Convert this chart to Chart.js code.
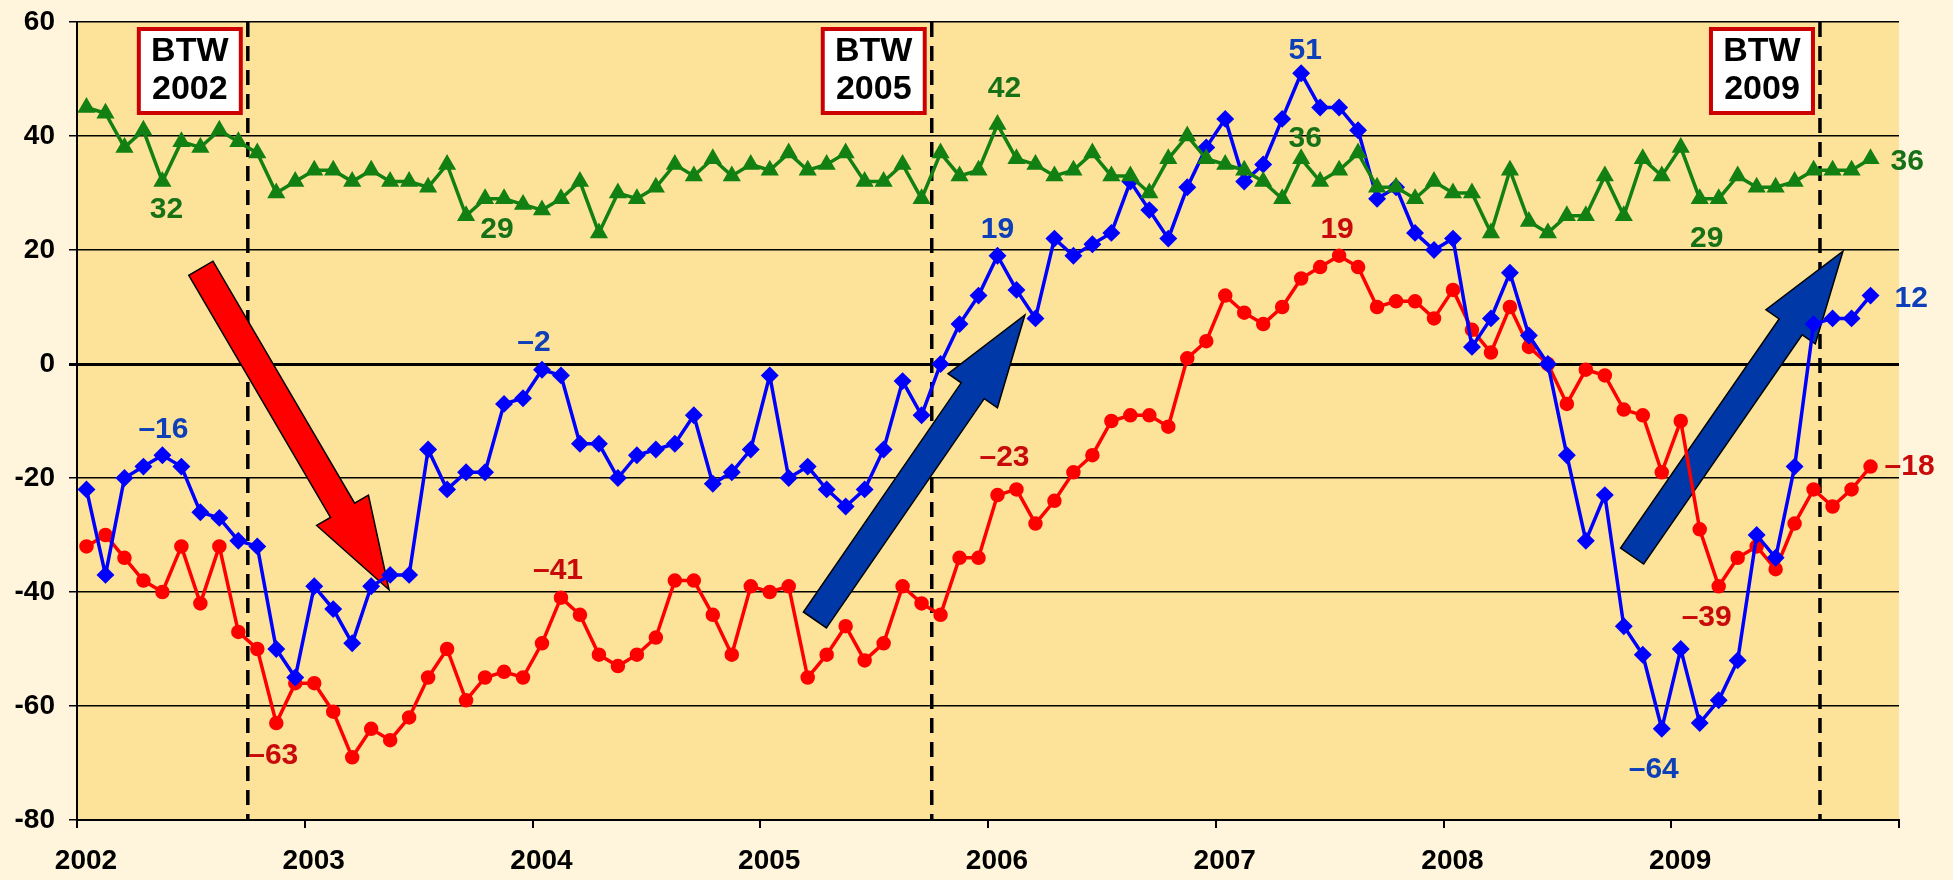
<!DOCTYPE html>
<html>
<head>
<meta charset="utf-8">
<script src="https://cdn.jsdelivr.net/npm/chart.js@4.4.0/dist/chart.umd.min.js"></script>
<style>
html, body { margin:0; padding:0; background:#FFF5DC; }
canvas { display:block; }
</style>
</head>
<body>
<canvas id="myChart" width="1953" height="880"></canvas>
<script>
// Monatswerte Jan 2002 - Nov 2009
var firstYear = 2002;
var greenValues = [
  45,44,38,41,32,39,38,41,39,37,30,32,
  34,34,32,34,32,32,31,35,26,29,29,28,
  27,29,32,23,30,29,31,35,33,36,33,35,
  34,37,34,35,37,32,32,35,29,37,33,34,
  42,36,35,33,34,37,33,33,30,36,40,36,
  35,34,32,29,36,32,34,37,31,31,29,32,
  30,30,23,34,25,23,26,26,33,26,36,33,
  38,29,29,33,31,31,32,34,34,34,36
];
var blueValues = [
  -22,-37,-20,-18,-16,-18,-26,-27,-31,-32,-50,-55,
  -39,-43,-49,-39,-37,-37,-15,-22,-19,-19,-7,-6,
  -1,-2,-14,-14,-20,-16,-15,-14,-9,-21,-19,-15,
  -2,-20,-18,-22,-25,-22,-15,-3,-9,0,7,12,
  19,13,8,22,19,21,23,32,27,22,31,38,
  43,32,35,43,51,45,45,41,29,31,23,20,
  22,3,8,16,5,0,-16,-31,-23,-46,-51,-64,
  -50,-63,-59,-52,-30,-34,-18,7,8,8,12
];
var redValues = [
  -32,-30,-34,-38,-40,-32,-42,-32,-47,-50,-63,-56,
  -56,-61,-69,-64,-66,-62,-55,-50,-59,-55,-54,-55,
  -49,-41,-44,-51,-53,-51,-48,-38,-38,-44,-51,-39,
  -40,-39,-55,-51,-46,-52,-49,-39,-42,-44,-34,-34,
  -23,-22,-28,-24,-19,-16,-10,-9,-9,-11,1,4,
  12,9,7,10,15,17,19,17,10,11,11,8,
  13,6,2,10,3,0,-7,-1,-2,-8,-9,-19,
  -10,-29,-39,-34,-32,-36,-28,-22,-25,-22,-18
];
var yearLabels = ['2002','2003','2004','2005','2006','2007','2008','2009'];

// Bundestagswahlen (gestrichelte Linien)
var electionNames = ['2002','2005','2009'];
var electionDates = [2002.75, 2005.753, 2009.653];

// Pfeile: Anfang und Spitze in Achsenwerten
var arrows = [
  { from:[2002.544, 16.8], to:[2003.370, -39.6], color:'#FF0000' },
  { from:[2005.240, -44.9], to:[2006.162, 8.6], color:'#0038A8' },
  { from:[2008.828, -33.7], to:[2009.754, 19.8], color:'#0038A8' }
];

// Beschriftungen an einzelnen Punkten
var pointLabels = [
  { ds:0, i:4,  text:'32',  dx:4,  dy:28 },
  { ds:0, i:21, text:'29',  dx:12, dy:31 },
  { ds:0, i:48, text:'42',  dx:7,  dy:-36 },
  { ds:0, i:64, text:'36',  dx:4,  dy:-20 },
  { ds:0, i:85, text:'29',  dx:7,  dy:40 },
  { ds:0, i:94, text:'36',  dx:20, dy:3, align:'left' },
  { ds:1, i:4,  text:'\u201316', dx:1,  dy:-25 },
  { ds:1, i:24, text:'\u20132',  dx:-8, dy:-27 },
  { ds:1, i:48, text:'19',  dx:0,  dy:-26 },
  { ds:1, i:64, text:'51',  dx:4,  dy:-23 },
  { ds:1, i:83, text:'\u201364', dx:-8, dy:41 },
  { ds:1, i:94, text:'12',  dx:24, dy:3, align:'left' },
  { ds:2, i:10, text:'\u201363', dx:-3, dy:33 },
  { ds:2, i:25, text:'\u201341', dx:-3, dy:-27 },
  { ds:2, i:48, text:'\u201323', dx:7,  dy:-37 },
  { ds:2, i:66, text:'19',  dx:-2, dy:-26 },
  { ds:2, i:86, text:'\u201339', dx:-12, dy:31 },
  { ds:2, i:94, text:'\u201318', dx:14, dy:0, align:'left' }
];
var labelColors = ['#177217', '#0D40B8', '#C80A0A'];

var fontFamily = '"Liberation Sans", Arial, Helvetica, sans-serif';

function toPoints(values){
  return values.map(function(v, i){ return { x: firstYear + (i + 0.5) / 12, y: v }; });
}

function drawArrow(ctx, x1, y1, x2, y2, color){
  var shaft = 28, headW = 60, headL = 92;
  var dx = x2 - x1, dy = y2 - y1, len = Math.sqrt(dx*dx + dy*dy);
  var ux = dx/len, uy = dy/len, px = -uy, py = ux;
  var bx = x2 - ux*headL, by = y2 - uy*headL;
  ctx.beginPath();
  ctx.moveTo(x1 + px*shaft/2, y1 + py*shaft/2);
  ctx.lineTo(bx + px*shaft/2, by + py*shaft/2);
  ctx.lineTo(bx + px*headW/2, by + py*headW/2);
  ctx.lineTo(x2, y2);
  ctx.lineTo(bx - px*headW/2, by - py*headW/2);
  ctx.lineTo(bx - px*shaft/2, by - py*shaft/2);
  ctx.lineTo(x1 - px*shaft/2, y1 - py*shaft/2);
  ctx.closePath();
  ctx.fillStyle = color;
  ctx.fill();
  ctx.lineWidth = 1.5;
  ctx.strokeStyle = '#000';
  ctx.stroke();
}

var decoPlugin = {
  id: 'deco',
  beforeDraw: function(chart){
    var a = chart.chartArea, ctx = chart.ctx;
    ctx.save();
    ctx.fillStyle = '#FDE299';
    ctx.fillRect(a.left, a.top, a.right - a.left, a.bottom - a.top);
    ctx.restore();
  },
  beforeDatasetsDraw: function(chart){
    var a = chart.chartArea, ctx = chart.ctx;
    var xs = chart.scales.x, ys = chart.scales.y;
    ctx.save();
    // gestrichelte Wahllinien
    ctx.strokeStyle = '#000';
    ctx.lineWidth = 3.5;
    ctx.setLineDash([15, 9]);
    electionDates.forEach(function(d){
      var x = xs.getPixelForValue(d);
      ctx.beginPath();
      ctx.moveTo(x, a.top);
      ctx.lineTo(x, a.bottom);
      ctx.stroke();
    });
    ctx.setLineDash([]);
    arrows.forEach(function(ar){
      drawArrow(ctx,
        xs.getPixelForValue(ar.from[0]), ys.getPixelForValue(ar.from[1]),
        xs.getPixelForValue(ar.to[0]), ys.getPixelForValue(ar.to[1]), ar.color);
    });
    ctx.restore();
  },
  afterDatasetsDraw: function(chart){
    var a = chart.chartArea, ctx = chart.ctx;
    var xs = chart.scales.x;
    ctx.save();
    ctx.font = 'bold 30px ' + fontFamily;
    ctx.textBaseline = 'middle';
    pointLabels.forEach(function(l){
      var p = chart.getDatasetMeta(l.ds).data[l.i];
      ctx.fillStyle = labelColors[l.ds];
      ctx.textAlign = l.align || 'center';
      ctx.fillText(l.text, p.x + l.dx, p.y + l.dy);
    });
    // BTW Kaesten
    electionDates.forEach(function(d, k){
      var x = xs.getPixelForValue(d);
      var w = 106, h = 88, right = x - 5, top = a.top + 5;
      ctx.fillStyle = '#FFFFFF';
      ctx.fillRect(right - w, top, w, h);
      ctx.lineWidth = 4;
      ctx.strokeStyle = '#CC0000';
      ctx.strokeRect(right - w + 2, top + 2, w - 4, h - 4);
      ctx.fillStyle = '#000';
      ctx.textAlign = 'center';
      ctx.font = 'bold 34px ' + fontFamily;
      ctx.fillText('BTW', right - w/2, top + 25);
      ctx.fillText(electionNames[k], right - w/2, top + 63);
    });
    ctx.restore();
  }
};

var ctx = document.getElementById('myChart').getContext('2d');
var myChart = new Chart(ctx, {
  type: 'line',
  data: {
    datasets: [
      {
        data: toPoints(greenValues),
        borderColor: '#128012', backgroundColor: '#128012',
        borderWidth: 3.5, pointStyle: 'triangle', pointRadius: 7,
        tension: 0
      },
      {
        data: toPoints(blueValues),
        borderColor: '#0000FF', backgroundColor: '#0000FF',
        borderWidth: 3.5, pointStyle: 'rectRot', pointRadius: 6.5,
        tension: 0
      },
      {
        data: toPoints(redValues),
        borderColor: '#FF0000', backgroundColor: '#FF0000',
        borderWidth: 3.5, pointStyle: 'circle', pointRadius: 5.5,
        tension: 0
      }
    ]
  },
  options: {
    responsive: false,
    animation: false,
    devicePixelRatio: 1,
    layout: { padding: { top: 22, right: 54, left: 0, bottom: 0 } },
    plugins: { legend: { display: false }, tooltip: { enabled: false } },
    scales: {
      x: {
        type: 'linear', min: 2002, max: 2010,
        ticks: {
          stepSize: 1, autoSkip: false, maxRotation: 0,
          color: '#000', padding: 16, labelOffset: 9,
          font: { family: fontFamily, size: 28, weight: 'bold' },
          callback: function(v){ return yearLabels[v - firstYear] || ''; }
        },
        grid: { drawOnChartArea: false, color: '#000', lineWidth: 2, tickLength: 8 },
        border: { color: '#000', width: 2 },
        afterFit: function(s){ s.height = 60; s.paddingLeft = 0; s.paddingRight = 0; }
      },
      y: {
        min: -80, max: 60,
        ticks: {
          stepSize: 20, color: '#000', padding: 14,
          font: { family: fontFamily, size: 28, weight: 'bold' },
          callback: function(v){ return String(v); }
        },
        grid: {
          color: '#000', tickLength: 8,
          lineWidth: function(c){ return c.tick && c.tick.value === 0 ? 3 : 1.5; }
        },
        border: { color: '#000', width: 2 },
        afterFit: function(s){ s.width = 77; s.paddingTop = 0; s.paddingBottom = 0; }
      }
    }
  },
  plugins: [decoPlugin]
});
</script>
</body>
</html>
